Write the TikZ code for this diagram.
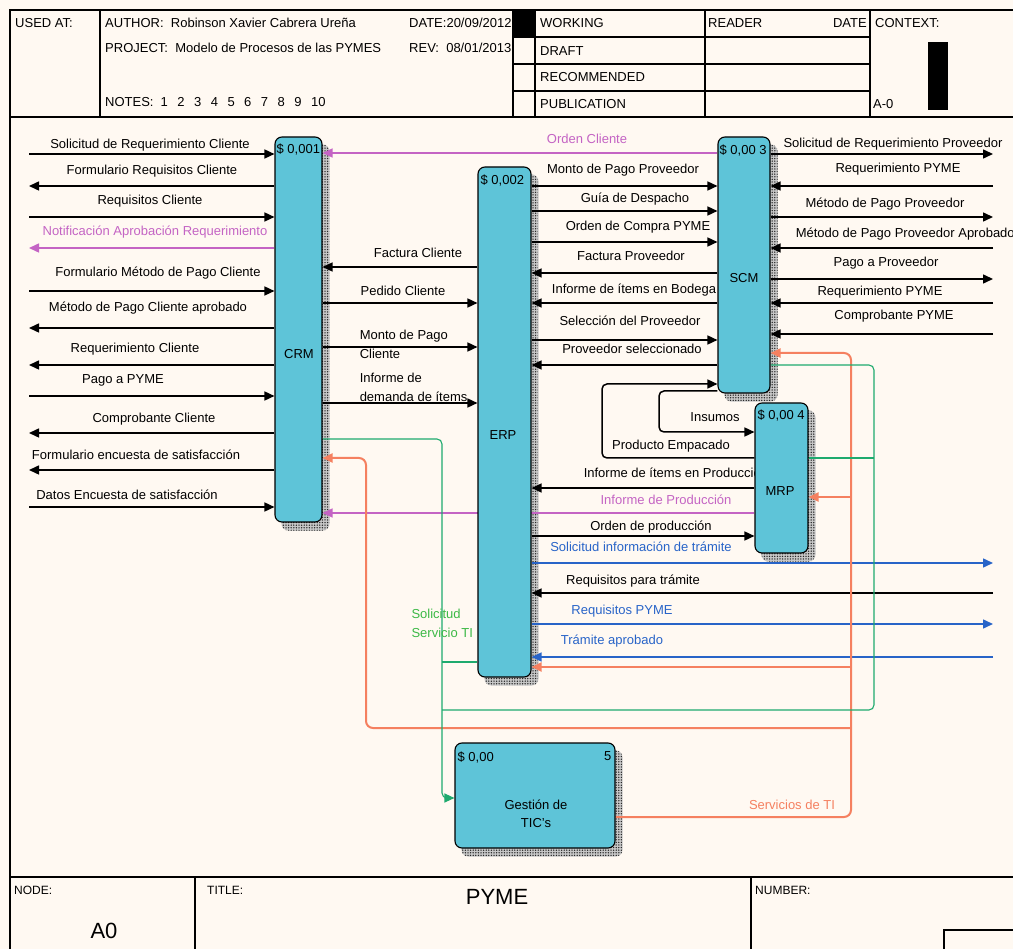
\documentclass[tikz,border=0pt]{standalone}
\usepackage{fontspec}
\setmainfont{Liberation Sans}
\usetikzlibrary{arrows.meta, patterns.meta}
\definecolor{paper}{RGB}{255,249,242}
\definecolor{boxcyan}{RGB}{94,196,216}
\definecolor{magline}{RGB}{196,100,196}
\definecolor{blueline}{RGB}{40,100,200}
\definecolor{orgline}{RGB}{245,128,96}
\definecolor{grnline}{RGB}{30,170,110}
\definecolor{grntext}{RGB}{60,185,70}
\pgfdeclarelayer{paperlayer}
\pgfdeclarelayer{shadelayer}
\pgfdeclarelayer{linelayer}
\pgfsetlayers{paperlayer,shadelayer,linelayer,main}

\begin{document}
\begin{tikzpicture}[
    x=1pt, y=-1pt,
    font=\fontsize{13}{15}\selectfont,
    frm/.style={line width=1.3pt},
    fn/.style={draw, line width=1.1pt, fill=boxcyan, rounded corners=7pt, inner sep=0pt},
    shd/.style={preaction={fill=black!22}, pattern={Dots[distance=2.6pt, radius=0.75pt]}, pattern color=black!85, rounded corners=7pt},
    cost/.style={anchor=north west, inner sep=0pt},
    hd/.style={anchor=west, inner sep=0pt},
    lbl/.style={inner sep=0pt, text height=9pt, text depth=3pt},
    mlbl/.style={anchor=north west, inner sep=0pt, align=left, font=\fontsize{13}{19}\selectfont},
    ln/.style={line width=1.5pt, rounded corners=5pt},
    ar/.style={ln, -{Triangle[length=10pt,width=9pt]}},
    orln/.style={line width=2pt, draw=orgline, rounded corners=7pt},
    orar/.style={orln, -{Triangle[length=10pt,width=9pt]}},
    grln/.style={line width=1.1pt, draw=grnline, rounded corners=5pt},
    grar/.style={grln, -{Triangle[length=10pt,width=9pt]}}
  ]
  \useasboundingbox (0,0) rectangle (1013,949);
  \begin{pgfonlayer}{paperlayer}
    \fill[paper] (0,0) rectangle (1013,949);
  \end{pgfonlayer}

  % frame and header
  \draw[frm] (10,949) -- (10,10) -- (1013,10);
  \draw[frm] (10,117) -- (1013,117);
  \draw[frm] (100,10) -- (100,117);
  \draw[frm] (513,10) -- (513,117);
  \draw[frm] (535,10) -- (535,117);
  \draw[frm] (705,10) -- (705,117);
  \draw[frm] (870,10) -- (870,117);
  \draw[frm] (513,37) -- (870,37);
  \draw[frm] (513,64) -- (870,64);
  \draw[frm] (513,91) -- (870,91);
  \draw[frm] (10,877) -- (1013,877);
  \draw[frm] (195,877) -- (195,949);
  \draw[frm] (751,877) -- (751,949);
  \draw[frm] (944,930) rectangle (1020,960);

  \node[hd] (usedat) at (15,23) {USED AT:};
  \node[hd] (author) at (105,23) {AUTHOR:\ \ Robinson Xavier Cabrera Ureña};
  \node[hd] (project) at (105,48) {PROJECT:\ \ Modelo de Procesos de las PYMES};
  \node[hd] (notes) at (105,102) {NOTES:\hspace{7pt}1\hspace{9.5pt}2\hspace{9.5pt}3\hspace{9.5pt}4\hspace{9.5pt}5\hspace{9.5pt}6\hspace{9.5pt}7\hspace{9.5pt}8\hspace{9.5pt}9\hspace{9.5pt}10};
  \node[hd] (date) at (409,23) {DATE:20/09/2012};
  \node[hd] (rev) at (409,48) {REV:\ \ 08/01/2013};
  \fill (513,10) rectangle (535,37);
  \node[hd] (working) at (540,23) {WORKING};
  \node[hd] (draft) at (540,51) {DRAFT};
  \node[hd] (recommended) at (540,77.5) {RECOMMENDED};
  \node[hd] (publication) at (540,104) {PUBLICATION};
  \node[hd] (reader) at (708,23) {READER};
  \node[hd, anchor=east] (readdate) at (867,23) {DATE};
  \node[hd] (context) at (875,23) {CONTEXT:};
  \node[hd] (ctxnode) at (873,104) {A-0};
  \fill (928,42) rectangle (948,110);

  \node[hd, font=\fontsize{12}{14}\selectfont] (nodehd) at (14,890) {NODE:};
  \node[hd, font=\fontsize{12}{14}\selectfont] (titlehd) at (207,890) {TITLE:};
  \node[hd, font=\fontsize{12}{14}\selectfont] (numberhd) at (755,890) {NUMBER:};
  \node[inner sep=0pt, font=\fontsize{22}{26}\selectfont] (title) at (497,897) {PYME};
  \node[inner sep=0pt, font=\fontsize{22}{26}\selectfont] (nodeno) at (104,931) {A0};

  % activity boxes
  \node[fn, minimum width=47pt, minimum height=385pt] (crm) at (298.5,329.5) {};
  \node[fn, minimum width=53pt, minimum height=510pt] (erp) at (504.5,422) {};
  \node[fn, minimum width=52pt, minimum height=256pt] (scm) at (744,265) {};
  \node[fn, minimum width=53pt, minimum height=150pt] (mrp) at (781.5,478) {};
  \node[fn, minimum width=160pt, minimum height=105pt] (tic) at (535,795.5) {};

  \node (crmtxt) at (299,354) {CRM};
  \node (erptxt) at (503,435) {ERP};
  \node (scmtxt) at (744,278) {SCM};
  \node (mrptxt) at (780,491) {MRP};
  \node[align=center, font=\fontsize{13}{18}\selectfont] (tictxt) at (536,814) {Gestión de\\TIC's};

  \node[cost] (crmcost) at ([shift={(2,7)}]crm.north west) {\$ 0,001};
  \node[cost] (erpcost) at ([shift={(3,8)}]erp.north west) {\$ 0,002};
  \node[cost] (scmcost) at ([shift={(2,8)}]scm.north west) {\$ 0,00 3};
  \node[cost] (mrpcost) at ([shift={(3,7)}]mrp.north west) {\$ 0,00 4};
  \node[cost] (ticcost) at ([shift={(3,9)}]tic.north west) {\$ 0,00};
  \node[cost, anchor=north east] (ticno) at ([shift={(-4,9)}]tic.north east) {5};

  \begin{pgfonlayer}{shadelayer}
    \fill[shd] ([shift={(7,8)}]crm.north west) rectangle ([shift={(7,8)}]crm.south east);
    \fill[shd] ([shift={(7,8)}]erp.north west) rectangle ([shift={(7,8)}]erp.south east);
    \fill[shd] ([shift={(7,8)}]scm.north west) rectangle ([shift={(7,8)}]scm.south east);
    \fill[shd] ([shift={(7,8)}]mrp.north west) rectangle ([shift={(7,8)}]mrp.south east);
    \fill[shd] ([shift={(7,8)}]tic.north west) rectangle ([shift={(7,8)}]tic.south east);
  \end{pgfonlayer}

  \coordinate (lm) at (29,0);
  \coordinate (rm) at (993,0);
  \coordinate (orbus) at (851,0);
  \coordinate (grbusl) at (442,0);
  \coordinate (grbusr) at (874,0);

  \begin{pgfonlayer}{linelayer}
  % CRM, outside
  \draw[ar] (lm |- 0,154) -- (crm.west |- 0,154) node[lbl] at (150,146) {Solicitud de Requerimiento Cliente};
  \draw[ar] (crm.west |- 0,186) -- (lm |- 0,186) node[lbl] at (152,172) {Formulario Requisitos Cliente};
  \draw[ar] (lm |- 0,217) -- (crm.west |- 0,217) node[lbl] at (150,202) {Requisitos Cliente};
  \draw[ar, magline] (crm.west |- 0,248) -- (lm |- 0,248) node[lbl] at (155,233) {Notificación Aprobación Requerimiento};
  \draw[ar] (lm |- 0,291) -- (crm.west |- 0,291) node[lbl] at (158,274) {Formulario Método de Pago Cliente};
  \draw[ar] (crm.west |- 0,328) -- (lm |- 0,328) node[lbl] at (148,309) {Método de Pago Cliente aprobado};
  \draw[ar] (crm.west |- 0,365) -- (lm |- 0,365) node[lbl] at (135,350) {Requerimiento Cliente};
  \draw[ar] (lm |- 0,396) -- (crm.west |- 0,396) node[lbl] at (123,381) {Pago a PYME};
  \draw[ar] (crm.west |- 0,433) -- (lm |- 0,433) node[lbl] at (154,420) {Comprobante Cliente};
  \draw[ar] (crm.west |- 0,470) -- (lm |- 0,470) node[lbl] at (136,457) {Formulario encuesta de satisfacción};
  \draw[ar] (lm |- 0,507) -- (crm.west |- 0,507) node[lbl] at (127,497) {Datos Encuesta de satisfacción};

  % CRM - ERP
  \draw[ar, magline] (scm.west |- 0,153) -- (crm.east |- 0,153) node[lbl] at (587,141) {Orden Cliente};
  \draw[ar] (erp.west |- 0,267) -- (crm.east |- 0,267) node[lbl] at (418,255) {Factura Cliente};
  \draw[ar] (crm.east |- 0,303) -- (erp.west |- 0,303) node[lbl] at (403,293) {Pedido Cliente};
  \draw[ar] (crm.east |- 0,347) -- (erp.west |- 0,347) node[mlbl] at (359,329) {Monto de Pago\\Cliente};
  \draw[ar] (crm.east |- 0,403) -- (erp.west |- 0,403) node[mlbl] at (359,372) {Informe de\\demanda de ítems};

  % ERP - SCM
  \draw[ar] (erp.east |- 0,186) -- (scm.west |- 0,186) node[lbl] at (623,171) {Monto de Pago Proveedor};
  \draw[ar] (erp.east |- 0,211) -- (scm.west |- 0,211) node[lbl] at (635,200) {Guía de Despacho};
  \draw[ar] (erp.east |- 0,242) -- (scm.west |- 0,242) node[lbl] at (638,228) {Orden de Compra PYME};
  \draw[ar] (scm.west |- 0,273) -- (erp.east |- 0,273) node[lbl] at (631,258) {Factura Proveedor};
  \draw[ar] (scm.west |- 0,303) -- (erp.east |- 0,303) node[lbl] at (634,291) {Informe de ítems en Bodega};
  \draw[ar] (erp.east |- 0,340) -- (scm.west |- 0,340) node[lbl] at (630,323) {Selección del Proveedor};
  \draw[ar] (scm.west |- 0,365) -- (erp.east |- 0,365) node[lbl] at (632,351) {Proveedor seleccionado};

  % SCM, outside
  \draw[ar] (scm.east |- 0,154) -- (rm |- 0,154) node[lbl] at (893,145) {Solicitud de Requerimiento Proveedor};
  \draw[ar] (rm |- 0,186) -- (scm.east |- 0,186) node[lbl] at (898,170) {Requerimiento PYME};
  \draw[ar] (scm.east |- 0,217) -- (rm |- 0,217) node[lbl] at (885,205) {Método de Pago Proveedor};
  \draw[ar] (rm |- 0,248) -- (scm.east |- 0,248) node[lbl, anchor=west] at (795,235) {Método de Pago Proveedor Aprobado};
  \draw[ar] (scm.east |- 0,279) -- (rm |- 0,279) node[lbl] at (886,264) {Pago a Proveedor};
  \draw[ar] (rm |- 0,303) -- (scm.east |- 0,303) node[lbl] at (880,293) {Requerimiento PYME};
  \draw[ar] (rm |- 0,334) -- (scm.east |- 0,334) node[lbl] at (894,317) {Comprobante PYME};

  % SCM - MRP
  \draw[ar] (mrp.west |- 0,458) -- (602,458) -- (602,384) -- (scm.west |- 0,384) node[lbl] at (671,447) {Producto Empacado};
  \draw[ar] (scm.west |- 0,391) -- (659,391) -- (659,432) -- (mrp.west |- 0,432) node[lbl] at (715,419) {Insumos};

  % ERP - MRP
  \draw[ar] (mrp.west |- 0,488) -- (erp.east |- 0,488) node[lbl, anchor=west] at (583,475) {Informe de ítems en Producción};
  \draw[ar, magline] (mrp.west |- 0,513) -- (crm.east |- 0,513) node[lbl] at (666,502) {Informe de Producción};
  \draw[ar] (erp.east |- 0,536) -- (mrp.west |- 0,536) node[lbl] at (651,528) {Orden de producción};

  % ERP, outside
  \draw[ar, blueline] (erp.east |- 0,563) -- (rm |- 0,563) node[lbl] at (641,548) {Solicitud información de trámite};
  \draw[ar] (rm |- 0,593) -- (erp.east |- 0,593) node[lbl] at (633,581) {Requisitos para trámite};
  \draw[ar, blueline] (erp.east |- 0,624) -- (rm |- 0,624) node[lbl] at (622,611) {Requisitos PYME};
  \draw[ar, blueline] (rm |- 0,657) -- (erp.east |- 0,657) node[lbl] at (612,641) {Trámite aprobado};

  % servicios de TI
  \draw[orar] (tic.east |- 0,817) -- (orbus |- 0,817) -- (orbus |- 0,353) -- (scm.east |- 0,353) node[lbl, text=orgline] at (792,806) {Servicios de TI};
  \draw[orar] (orbus |- 0,497) -- (mrp.east |- 0,497);
  \draw[orar] (orbus |- 0,667) -- (erp.east |- 0,667);
  \draw[orar] (orbus |- 0,728) -- (366,728) -- (366,458) -- (crm.east |- 0,458);

  % solicitud servicio TI
  \draw[grar] (crm.east |- 0,439) -- (grbusl |- 0,439) -- (grbusl |- 0,798) -- (tic.west |- 0,798) node[mlbl, text=grntext] at (411,609) {Solicitud\\Servicio TI};
  \draw[grln] (erp.west |- 0,662) -- (grbusl |- 0,662);
  \draw[grln] (scm.east |- 0,365) -- (grbusr |- 0,365) -- (grbusr |- 0,710) -- (grbusl |- 0,710);
  \draw[grln] (mrp.east |- 0,458) -- (grbusr |- 0,458);
  \end{pgfonlayer}
\end{tikzpicture}
\end{document}
